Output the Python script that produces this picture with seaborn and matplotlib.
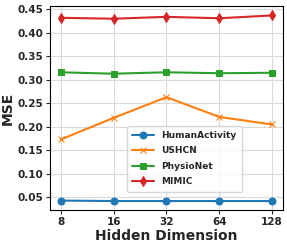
import numpy as np
import pandas as pd
import matplotlib
matplotlib.use("Agg")
import matplotlib.pyplot as plt
import seaborn as sns

# data
hidden_dims = ["8", "16", "32", "64", "128"]
human_activity = [0.043, 0.042, 0.042, 0.042, 0.042]
ushcn = [0.173, 0.219, 0.263, 0.221, 0.205]
physionet = [0.316, 0.313, 0.316, 0.314, 0.315]
mimic = [0.432, 0.430, 0.434, 0.431, 0.437]

datasets = ["HumanActivity", "USHCN", "PhysioNet", "MIMIC"]
values = [human_activity, ushcn, physionet, mimic]
markers = ["o", "x", "s", "d"]
colors = sns.color_palette("tab10", 4)

sns.set_style("ticks")
plt.rcParams['font.family'] = ['DejaVu Sans']
plt.rcParams['font.weight'] = 'bold'

fig, ax = plt.subplots(figsize=(2.87, 2.46), dpi=100)
for name, vals, m, c in zip(datasets, values, markers, colors):
    df = pd.DataFrame({"dim": hidden_dims, "mse": vals})
    sns.lineplot(data=df, x="dim", y="mse", marker=m, color=c, label=name,
                 markersize=5, linewidth=1.5, markeredgecolor=c, ax=ax)

ax.grid(True, color="#d9d9d9", linewidth=0.8)
ax.set_axisbelow(True)
ax.set_yticks(np.arange(0.05, 0.451, 0.05))
ax.tick_params(labelsize=7.5, length=3, width=0.8, pad=2)
for lab in ax.get_xticklabels() + ax.get_yticklabels():
    lab.set_fontweight('bold')
ax.set_xlabel("Hidden Dimension", fontsize=10, fontweight='bold', labelpad=1)
ax.set_ylabel("MSE", fontsize=10, fontweight='bold', labelpad=2)
for s in ax.spines.values():
    s.set_color("black")
    s.set_linewidth(0.8)

leg = ax.legend(loc="lower left", bbox_to_anchor=(0.31, 0.07),
                prop={'weight': 'bold', 'size': 6.5}, frameon=True,
                borderpad=0.6, labelspacing=0.7, handlelength=2.4)

fig.subplots_adjust(left=0.175, right=0.985, bottom=0.145, top=0.975)
plt.savefig("out.png", dpi=100)
